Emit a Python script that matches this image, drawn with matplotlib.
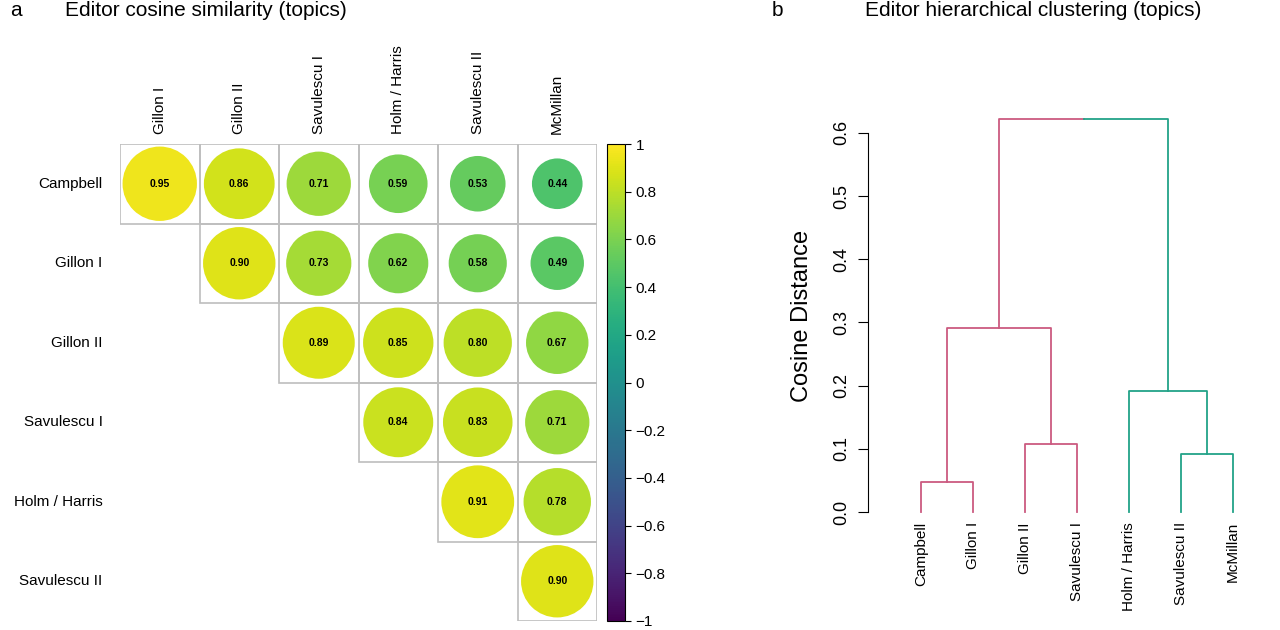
import numpy as np
import matplotlib
matplotlib.use("Agg")
import matplotlib.pyplot as plt
from matplotlib.patches import Circle, Rectangle
from matplotlib import cm, colors

plt.rcParams['font.family'] = ['Liberation Sans', 'DejaVu Sans']

# ---- data ----
row_labels = ["Campbell", "Gillon I", "Gillon II", "Savulescu I", "Holm / Harris", "Savulescu II"]
col_labels = ["Gillon I", "Gillon II", "Savulescu I", "Holm / Harris", "Savulescu II", "McMillan"]
sim = [
    [0.95, 0.86, 0.71, 0.59, 0.53, 0.44],
    [None, 0.90, 0.73, 0.62, 0.58, 0.49],
    [None, None, 0.89, 0.85, 0.80, 0.67],
    [None, None, None, 0.84, 0.83, 0.71],
    [None, None, None, None, 0.91, 0.78],
    [None, None, None, None, None, 0.90],
]
leaf_labels = ["Campbell", "Gillon I", "Gillon II", "Savulescu I", "Holm / Harris", "Savulescu II", "McMillan"]
# merges: (left child, right child, height); leaves are 0..6, new clusters 7..
merges = [(0, 1, 0.048), (5, 6, 0.092), (2, 3, 0.108), (4, 8, 0.191), (7, 9, 0.292), (11, 10, 0.622)]
pink, teal = "#CB5A80", "#22A288"

W, H = 1280, 630
fig = plt.figure(figsize=(W / 100, H / 100), dpi=100)

def px_axes(x0, y0, x1, y1):
    return fig.add_axes([x0 / W, 1 - y1 / H, (x1 - x0) / W, (y1 - y0) / H])

# ---- panel a ----
cmap = matplotlib.colormaps['viridis']
norm = colors.Normalize(-1, 1)
ax = px_axes(120, 144, 597, 621)
n = len(row_labels)
ax.set_xlim(0, n)
ax.set_ylim(n, 0)
ax.axis('off')
for i in range(n):
    for j in range(n):
        v = sim[i][j]
        if v is None:
            continue
        ax.add_patch(Rectangle((j, i), 1, 1, fill=False, ec="#BEBEBE", lw=1.2))
        ax.add_patch(Circle((j + 0.5, i + 0.5), 0.48 * np.sqrt(v), color=cmap(norm(v)), lw=0))
        ax.text(j + 0.5, i + 0.5, f"{v:.2f}", ha='center', va='center', fontsize=7.5, fontweight='bold')
for i, lab in enumerate(row_labels):
    ax.text(-0.22, i + 0.5, lab, ha='right', va='center', fontsize=11)
for j, lab in enumerate(col_labels):
    ax.text(j + 0.5, -0.12, lab, ha='center', va='bottom', rotation=90, fontsize=11)

cax = px_axes(607, 144, 625, 621)
cb = fig.colorbar(cm.ScalarMappable(norm=norm, cmap=cmap), cax=cax)
ticks = np.arange(-1, 1.01, 0.2)
def fmt(t):
    if abs(t) < 1e-9:
        return "0"
    s = f"{t:.1f}".rstrip("0").rstrip(".") if abs(abs(t) - 1) < 1e-9 else f"{t:.1f}"
    return s.replace("-", "\u2212")
cb.set_ticks(ticks)
cb.set_ticklabels([fmt(t) for t in ticks])
cb.ax.tick_params(labelsize=11, length=4)
cb.outline.set_linewidth(0.8)

fig.text(10 / W, 1 - 10 / H, "a", fontsize=15, va='center')
fig.text(65 / W, 1 - 10 / H, "Editor cosine similarity (topics)", fontsize=15, va='center')

# ---- panel b ----
bx = px_axes(868, 119, 1250, 512)
bx.set_xlim(1 - 53 / 52, 1 + (1250 - 921) / 52)
bx.set_ylim(0, 0.622)
pos = {k: float(k + 1) for k in range(len(leaf_labels))}
hgt = {k: 0.0 for k in range(len(leaf_labels))}
members = {k: {k} for k in range(len(leaf_labels))}
for idx, (a, b, h) in enumerate(merges):
    node = len(leaf_labels) + idx
    if idx == len(merges) - 1:
        xm = (pos[a] + pos[b]) / 2
        bx.plot([pos[a], pos[a], xm], [hgt[a], h, h], color=pink, lw=1.3, clip_on=False)
        bx.plot([xm, pos[b], pos[b]], [h, h, hgt[b]], color=teal, lw=1.3, clip_on=False)
    else:
        c = pink if min(members[a] | members[b]) < 4 else teal
        bx.plot([pos[a], pos[a], pos[b], pos[b]], [hgt[a], h, h, hgt[b]], color=c, lw=1.3, clip_on=False)
    pos[node] = (pos[a] + pos[b]) / 2
    hgt[node] = h
    members[node] = members[a] | members[b]
for k, lab in enumerate(leaf_labels):
    bx.text(k + 1, -0.016, lab, rotation=90, ha='center', va='top', fontsize=11)
for s in ['top', 'right', 'bottom']:
    bx.spines[s].set_visible(False)
bx.spines['left'].set_bounds(0, 0.6)
bx.set_xticks([])
yt = np.arange(0, 0.61, 0.1)
bx.set_yticks(yt)
bx.set_yticklabels([f"{t:.1f}" for t in yt], rotation=90, va='center')
bx.tick_params(axis='y', labelsize=13, length=7, pad=6)
bx.set_ylabel("Cosine Distance", fontsize=17, labelpad=14)
bx.patch.set_alpha(0)

fig.text(772 / W, 1 - 10 / H, "b", fontsize=15, va='center')
fig.text(865 / W, 1 - 10 / H, "Editor hierarchical clustering (topics)", fontsize=15, va='center')

fig.savefig("out.png", dpi=100)
